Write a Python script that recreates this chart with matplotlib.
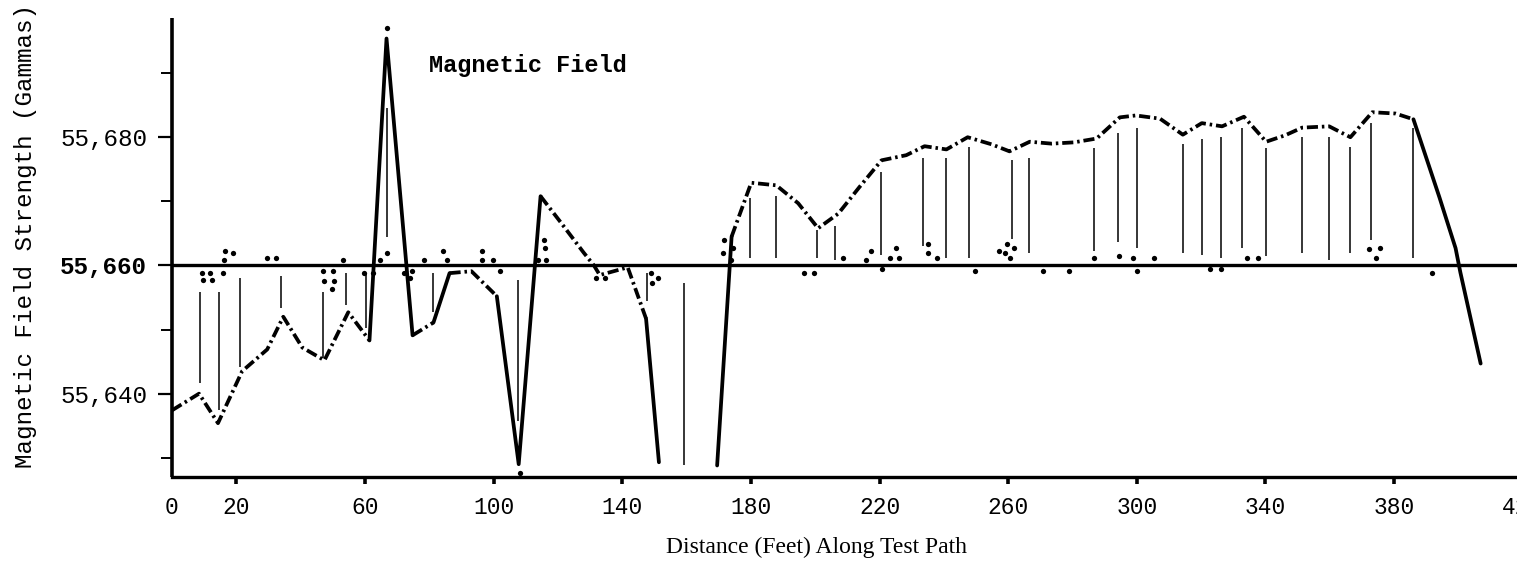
import numpy as np
import matplotlib
matplotlib.use("Agg")
import matplotlib.pyplot as plt

plt.rcParams['lines.scale_dashes'] = False

# ---- data ----
dist = [0, 8.4, 14.3, 21.8, 29.6, 34.6, 40.5, 47.4, 54.8, 61.4, 66.7, 74.8, 81.3, 86.3,
        93.1, 101.0, 107.8, 114.6, 120.9, 128.0, 131.2, 133.0, 141.7, 147.4, 151.4, 160.0,
        169.5, 174.0, 180.1, 187.9, 194.7, 200.9, 207.2, 213.7, 220.6, 228.3, 234.0, 240.8,
        247.4, 254.8, 260.4, 266.7, 273.5, 280.4, 287.5, 294.7, 299.7, 307.2, 314.3, 320.2,
        326.5, 333.3, 340.2, 346.1, 351.4, 359.8, 366.4, 373.2, 380.4, 386.0, 394.1, 399.1,
        400.6, 406.9]
field = [55637.4, 55640.0, 55635.4, 55643.5, 55646.9, 55652.0, 55647.2, 55645.2, 55652.7,
         55648.3, 55695.4, 55649.1, 55651.1, 55658.8, 55659.1, 55655.2, 55629.0, 55670.8,
         55666.7, 55662.0, 55660.0, 55658.5, 55659.7, 55651.7, 55629.3, np.nan, 55628.8,
         55664.5, 55672.9, 55672.5, 55669.7, 55665.8, 55668.1, 55672.2, 55676.4, 55677.2,
         55678.6, 55678.1, 55680.0, 55678.9, 55677.8, 55679.3, 55679.0, 55679.2, 55679.8,
         55683.1, 55683.4, 55682.9, 55680.4, 55682.2, 55681.7, 55683.2, 55679.3, 55680.3,
         55681.5, 55681.7, 55680.0, 55683.9, 55683.7, 55682.8, 55670.6, 55662.7, 55658.9,
         55644.7]

stem_x = [8.7, 14.6, 21.2, 34.0, 47.0, 54.2, 60.4, 66.7, 81.0, 107.5, 147.7, 159.2, 179.8,
          187.9, 200.6, 206.2, 220.6, 233.6, 240.8, 247.7, 261.1, 266.4, 286.6, 294.1,
          300.0, 314.3, 320.2, 326.2, 332.7, 340.2, 351.4, 359.8, 366.4, 372.9, 386.0]
stem_top = [55655.8, 55655.8, 55658.1, 55658.4, 55655.8, 55658.8, 55658.8, 55684.5, 55658.9,
            55657.7, 55658.8, 55657.2, 55670.5, 55670.9, 55665.5, 55666.2, 55674.5, 55676.8,
            55676.7, 55678.4, 55676.4, 55676.7, 55678.3, 55680.7, 55681.5, 55679.0, 55679.7,
            55680.1, 55681.5, 55678.3, 55680.1, 55680.0, 55678.4, 55682.2, 55681.5]
stem_bottom = [55641.6, 55637.4, 55644.1, 55653.4, 55645.6, 55653.8, 55650.3, 55664.4,
               55652.7, 55635.8, 55654.5, 55628.8, 55661.2, 55661.1, 55661.2, 55660.9,
               55661.6, 55663.1, 55661.2, 55661.2, 55664.2, 55661.9, 55662.3, 55663.6,
               55662.8, 55662.0, 55661.6, 55661.1, 55662.8, 55661.4, 55662.0, 55660.9,
               55661.9, 55663.9, 55661.1]

dot_x = [16.5, 19.0, 16.2, 29.6, 32.4, 53.3, 64.8, 66.7, 78.2, 84.4, 85.4, 96.3, 96.3, 99.7,
         113.7, 115.6, 115.9, 116.2, 171.7, 174.5, 171.3, 173.8, 208.7, 215.9, 217.4, 223.1,
         225.2, 225.9, 235.2, 235.2, 238.0, 257.0, 259.5, 261.7, 258.9, 260.7, 286.6, 294.4,
         298.8, 305.3, 334.3, 337.7, 372.3, 375.7, 374.5, 67.0,
         9.3, 11.8, 9.7, 12.5, 15.9, 47.0, 50.2, 47.4, 50.5, 49.8, 59.8, 62.6, 72.0, 74.5,
         74.1, 101.9, 131.8, 134.6, 148.9, 151.1, 149.2, 196.6, 199.7, 220.9, 249.8, 270.7,
         278.8, 300.0, 322.7, 326.2, 391.9, 108.1]
dot_y = [55662.2, 55662.0, 55660.9, 55661.1, 55661.1, 55660.9, 55660.9, 55662.0, 55660.9,
         55662.2, 55660.9, 55662.2, 55660.9, 55660.9, 55660.9, 55663.9, 55662.7, 55660.9,
         55663.9, 55662.7, 55661.9, 55660.9, 55661.1, 55660.9, 55662.2, 55661.2, 55662.7,
         55661.2, 55663.3, 55661.9, 55661.1, 55662.3, 55663.3, 55662.7, 55661.9, 55661.1,
         55661.1, 55661.4, 55661.1, 55661.2, 55661.2, 55661.2, 55662.5, 55662.8, 55661.2,
         55697.0,
         55658.9, 55658.9, 55657.7, 55657.7, 55658.8, 55659.2, 55659.2, 55657.5, 55657.5,
         55656.4, 55658.9, 55658.9, 55658.8, 55659.2, 55658.0, 55659.1, 55658.0, 55658.1,
         55658.8, 55658.0, 55657.2, 55658.9, 55658.9, 55659.5, 55659.1, 55659.1, 55659.2,
         55659.2, 55659.4, 55659.4, 55658.8, 55627.6]

baseline = 55660
x_ticks = [0, 20, 60, 100, 140, 180, 220, 260, 300, 340, 380, 420]
y_ticks = [55640, 55660, 55680]
y_tick_labels = ["55,640", "55,660", "55,680"]
y_minor = [55630, 55650, 55670, 55690]

# ---- figure ----
W, H = 1517, 566
fig = plt.figure(figsize=(W / 100, H / 100), dpi=100)
ax = fig.add_axes([172 / W, 89 / H, 1354 / W, 459 / H])
ax.set_xlim(0, 421)
ax.set_ylim(55627, 55698.6)

for s in ("top", "right"):
    ax.spines[s].set_visible(False)
ax.spines["left"].set_linewidth(2.6)
ax.spines["bottom"].set_linewidth(2.4)
ax.spines["left"].set_capstyle("butt")

ax.axhline(baseline, color="black", lw=2.4, zorder=2)

# main curve: steep segments solid, others dash-dot
d = np.array(dist, dtype=float)
f = np.array(field, dtype=float)
pix = ax.transData.transform(np.column_stack([d, np.nan_to_num(f, nan=baseline)]))
styles = []
for i in range(len(d) - 1):
    if np.isnan(f[i]) or np.isnan(f[i + 1]):
        styles.append(None)
        continue
    dx = abs(pix[i + 1, 0] - pix[i, 0])
    dy = abs(pix[i + 1, 1] - pix[i, 1])
    styles.append("solid" if dy > 3.0 * max(dx, 1e-6) else "dash")

dashdot = (0, (8, 2.8, 1.8, 2.8))
i = 0
while i < len(styles):
    st = styles[i]
    j = i
    while j + 1 < len(styles) and styles[j + 1] == st:
        j += 1
    if st is not None:
        ls = "-" if st == "solid" else dashdot
        ax.plot(d[i:j + 2], f[i:j + 2], color="black", lw=2.7, linestyle=ls,
                solid_capstyle="round", dash_capstyle="butt", zorder=3)
    i = j + 1

ax.vlines(stem_x, stem_bottom, stem_top, color="black", lw=1.1, zorder=2)
ax.plot(dot_x, dot_y, "o", ms=3.8, color="black", mec="none", zorder=4)

# ---- ticks ----
mono = "Liberation Mono"
ax.set_yticks(y_ticks)
ax.set_yticklabels(y_tick_labels, fontfamily=mono, fontsize=17.5)
ax.set_yticks(y_minor, minor=True)
for lab in ax.get_yticklabels():
    if lab.get_text() == "55,660":
        lab.set_fontweight("bold")
ax.tick_params(axis="y", which="major", direction="out", length=10, width=1.6, pad=8)
ax.tick_params(axis="y", which="minor", direction="out", length=8, width=1.4)

ax.set_xticks(x_ticks)
ax.set_xticklabels([str(v) for v in x_ticks], fontfamily=mono, fontsize=16.5)
ax.tick_params(axis="x", which="major", direction="out", length=5, width=2.6, pad=9)
ax.xaxis.get_major_ticks()[0].tick1line.set_visible(False)

# ---- texts ----
fig.text(26 / W, 1 - 236 / H, "Magnetic Field Strength (Gammas)", rotation=90,
         ha="center", va="center", fontfamily=mono, fontsize=17.5)
fig.text(816 / W, 1 - 547 / H, "Distance (Feet) Along Test Path", ha="center",
         va="center", fontfamily="Liberation Serif", fontsize=17)
ax.text(80, 55691.2, "Magnetic Field", ha="left", va="center", fontfamily=mono,
        fontsize=17, fontweight="bold")

fig.savefig("out.png", dpi=100)
